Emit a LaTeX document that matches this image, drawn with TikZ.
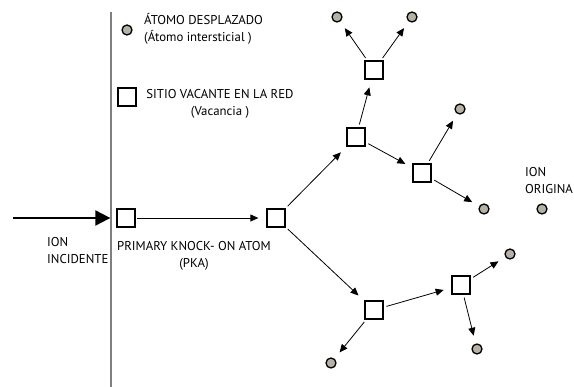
\documentclass[tikz,border=0pt]{standalone}
\usepackage{fontspec}
\setmainfont{PT Sans}
\usetikzlibrary{arrows.meta,positioning}
\definecolor{atomgray}{HTML}{B5B1A4}
\definecolor{wallgray}{HTML}{7F7F7F}

\begin{document}
\begin{tikzpicture}[x=1pt,y=-1pt,
  vac/.style={rectangle, draw, line width=1.3pt, minimum size=18pt, inner sep=0pt},
  atom/.style={circle, draw, line width=1.3pt, fill=atomgray, minimum size=10pt, inner sep=0pt},
  hit/.style={-{Triangle[length=8pt,width=7pt]}, line width=0.8pt, shorten <=3pt, shorten >=8pt},
  incident/.style={-{Triangle[length=15pt,width=15pt]}, line width=2pt},
  lbl/.style={font=\fontsize{12.8}{17}\selectfont, inner sep=0pt}
]
  \useasboundingbox (0,0) rectangle (574,387);

  % surface of the target
  \draw[wallgray, line width=1.5pt] (111,12) -- (111,387);

  % legend
  \node[atom] (legatom) at (127,30) {};
  \node[lbl, anchor=west, align=left] (legatomtxt) at (144,29) {ÁTOMO DESPLAZADO\\(Átomo intersticial )};
  \node[vac] (legvac) at (127,97) {};
  \node[lbl, align=center] (legvactxt) at (220,104) {SITIO VACANTE EN LA RED\\(Vacancia )};

  % incident ion and PKA
  \coordinate (ionstart) at (13,218);
  \node[vac] (pka) at (126,218) {};
  \node[lbl, anchor=west, align=left] (iontxt) at (47,251) {ION\\INCIDENTE};
  \node[lbl, align=center] (pkatxt) at (194,256) {PRIMARY KNOCK- ON ATOM\\(PKA)};
  \draw[incident, shorten >=6pt] (ionstart) -- (pka);

  % cascade
  \node[vac] (s2) at (276,218) {};
  \node[vac] (s3) at (356,137) {};
  \node[vac] (s4) at (374,70) {};
  \node[vac] (s5) at (422,173) {};
  \node[vac] (s6) at (374,310) {};
  \node[vac] (s7) at (461,285) {};

  \node[atom] (a1) at (337,17) {};
  \node[atom] (a2) at (412,17) {};
  \node[atom] (a3) at (460,109) {};
  \node[atom] (a4) at (484,209) {};
  \node[atom] (a5) at (542,209) {};
  \node[atom] (a6) at (510,254) {};
  \node[atom] (a7) at (477,349) {};
  \node[atom] (a8) at (331,363) {};
  \node[lbl, anchor=west, align=left] (origtxt) at (525,181) {ION\\ORIGINA};

  \draw[hit, shorten <=1pt] (pka) -- (s2);
  \draw[hit] (s2) -- (s3);
  \draw[hit] (s3) -- (s4);
  \draw[hit] (s4) -- (a1);
  \draw[hit] (s4) -- (a2);
  \draw[hit] (s3) -- (s5);
  \draw[hit] (s5) -- (a3);
  \draw[hit] (s5) -- (a4);
  \draw[hit] (s2) -- (s6);
  \draw[hit] (s6) -- (s7);
  \draw[hit] (s7) -- (a6);
  \draw[hit] (s7) -- (a7);
  \draw[hit] (s6) -- (a8);
\end{tikzpicture}
\end{document}
